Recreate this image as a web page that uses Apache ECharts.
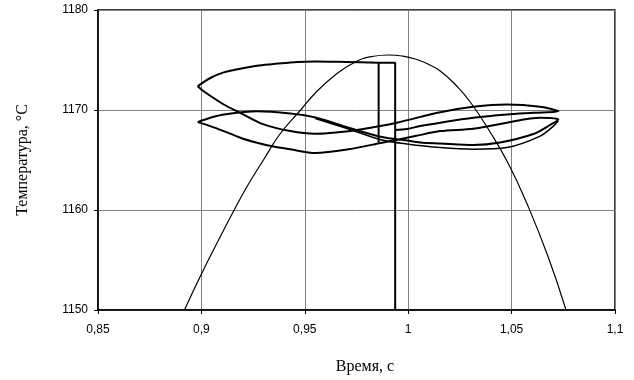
<!DOCTYPE html>
<html><head><meta charset="utf-8">
<script src="https://cdn.jsdelivr.net/npm/echarts@6.0.0/dist/echarts.min.js"></script>
<style>html,body{margin:0;padding:0;background:#fff}#c{width:634px;height:380px}</style>
</head><body><div id="c"></div>
<script>
// Tick labels
const xTickValues = [0.85, 0.9, 0.95, 1, 1.05, 1.1];
const xTickLabels = ['0,85', '0,9', '0,95', '1', '1,05', '1,1'];
const yTickValues = [1150, 1160, 1170, 1180];
const yTickLabels = ['1150', '1160', '1170', '1180'];

// Thin curve (parabola-like)
const thinTime = [0.8918, 0.9, 0.9078, 0.9156, 0.9225, 0.9297, 0.938, 0.948, 0.9551, 0.9647, 0.9744, 0.9825, 0.9905, 0.997, 1.0034, 1.01, 1.0155, 1.023, 1.03, 1.0396, 1.0485, 1.0575, 1.0677, 1.0763];
const thinTemp = [1150, 1153.6, 1156.8, 1159.9, 1162.5, 1164.9, 1167.6, 1170.0, 1171.7, 1173.5, 1174.8, 1175.35, 1175.5, 1175.4, 1175.1, 1174.55, 1173.9, 1172.5, 1170.8, 1167.8, 1164.6, 1160.6, 1155.3, 1150];

// Upper loop: upper branch
const upTopTime = [0.8982, 0.9043, 0.9108, 0.9188, 0.9269, 0.9349, 0.943, 0.9551, 0.97, 0.9857];
const upTopTemp = [1172.37, 1173.2, 1173.76, 1174.13, 1174.43, 1174.6, 1174.76, 1174.86, 1174.8, 1174.72];

// Upper loop: lower branch -> right upper lens -> back
const upLowTime = [0.8982, 0.9011, 0.9108, 0.9188, 0.9301, 0.943, 0.9551, 0.965, 0.9768, 0.9945, 1.0155, 1.0315, 1.0477, 1.0638, 1.0726, 1.0605, 1.0477, 1.0315, 1.0155, 1.0058, 0.9994, 0.9937];
const upLowTemp = [1172.37, 1171.87, 1170.55, 1169.72, 1168.56, 1167.89, 1167.63, 1167.75, 1168.06, 1168.73, 1169.78, 1170.32, 1170.55, 1170.32, 1169.88, 1169.72, 1169.55, 1169.22, 1168.73, 1168.39, 1168.1, 1168.0];

// Vertical jumps
const jumpTime = [0.9857, 0.9857, 0.9937, 0.9937];
const jumpTemp = [1166.8, 1174.72, 1174.72, 1150];

// Middle loop: upper branch -> right lower lens lower edge -> back via lower branch
const midTime = [0.8982, 0.9043, 0.9108, 0.9269, 0.943, 0.9551, 0.9712, 0.9873, 0.9994, 1.0058, 1.0155, 1.0315, 1.0444, 1.0605, 1.0686, 1.0726, 1.0638, 1.0477, 1.0315, 1.0155, 1.0034, 0.9873, 0.9712, 0.9551, 0.943, 0.9349, 0.9269, 0.9188, 0.9108, 0.9043, 0.8982];
const midTemp = [1168.79, 1169.22, 1169.55, 1169.88, 1169.65, 1169.25, 1168.23, 1167.3, 1166.95, 1166.75, 1166.65, 1166.5, 1166.75, 1167.6, 1168.5, 1169.05, 1169.22, 1168.73, 1168.13, 1167.89, 1167.39, 1166.73, 1166.07, 1165.7, 1166.07, 1166.34, 1166.73, 1167.23, 1167.89, 1168.39, 1168.79];

// Second (double) line of middle loop descending part
const dblTime = [0.9551, 0.9712, 0.9873, 0.9994, 1.0155, 1.0315, 1.0477, 1.0638, 1.0702, 1.0726];
const dblTemp = [1169.15, 1168.1, 1167.0, 1166.6, 1166.24, 1166.07, 1166.24, 1167.39, 1168.39, 1168.9];

function zip(a, b) { return a.map((v, i) => [v, b[i]]); }

const chart = echarts.init(document.getElementById('c'), null, {renderer: 'canvas'});
const thick = {color: '#000', width: 2};
const option = {
  backgroundColor: '#fff',
  animation: false,
  grid: {left: 98, right: 19, top: 10, bottom: 69, show: true, borderColor: '#000', borderWidth: 1.5, backgroundColor: 'transparent'},
  xAxis: {
    type: 'value', min: 0.85, max: 1.1, interval: 0.05,
    name: 'Время, с', nameLocation: 'middle', nameGap: 49,
    nameTextStyle: {fontFamily: 'Liberation Serif', fontSize: 16, color: '#000', padding: [0, 0, 0, 17]},
    axisLine: {show: true, lineStyle: {color: '#000', width: 1.5}},
    axisTick: {show: true, length: 4, inside: false, lineStyle: {color: '#000'}},
    axisLabel: {margin: 14, fontFamily: 'Liberation Sans', fontSize: 12, color: '#000',
      formatter: v => { const i = Math.round((v - xTickValues[0]) / 0.05); return xTickLabels[i] || ''; }},
    splitLine: {show: true, lineStyle: {color: '#808080', width: 1}}
  },
  yAxis: {
    type: 'value', min: 1150, max: 1180, interval: 10,
    name: 'Температура, °C', nameLocation: 'middle', nameGap: 67,
    nameTextStyle: {fontFamily: 'Liberation Serif', fontSize: 16, color: '#000'},
    axisLine: {show: true, lineStyle: {color: '#000', width: 1.5}},
    axisTick: {show: true, length: 4, inside: false, lineStyle: {color: '#000'}},
    axisLabel: {margin: 10, fontFamily: 'Liberation Sans', fontSize: 12, color: '#000',
      formatter: v => { const i = yTickValues.indexOf(Math.round(v)); return i >= 0 ? yTickLabels[i] : ''; }},
    splitLine: {show: true, lineStyle: {color: '#808080', width: 1}}
  },
  series: [
    {type: 'line', data: zip(thinTime, thinTemp), showSymbol: false, smooth: 0.5, lineStyle: {color: '#000', width: 1.2}},
    {type: 'line', data: zip(upTopTime, upTopTemp), showSymbol: false, smooth: 0.3, lineStyle: thick},
    {type: 'line', data: zip(upLowTime, upLowTemp), showSymbol: false, smooth: 0.3, lineStyle: thick},
    {type: 'line', data: zip(jumpTime, jumpTemp), showSymbol: false, smooth: false, lineStyle: thick},
    {type: 'line', data: zip(midTime, midTemp), showSymbol: false, smooth: 0.3, lineStyle: thick},
    {type: 'line', data: zip(dblTime, dblTemp), showSymbol: false, smooth: 0.3, lineStyle: {color: '#000', width: 1.5}}
  ]
};
chart.setOption(option);
</script>
</body></html>
